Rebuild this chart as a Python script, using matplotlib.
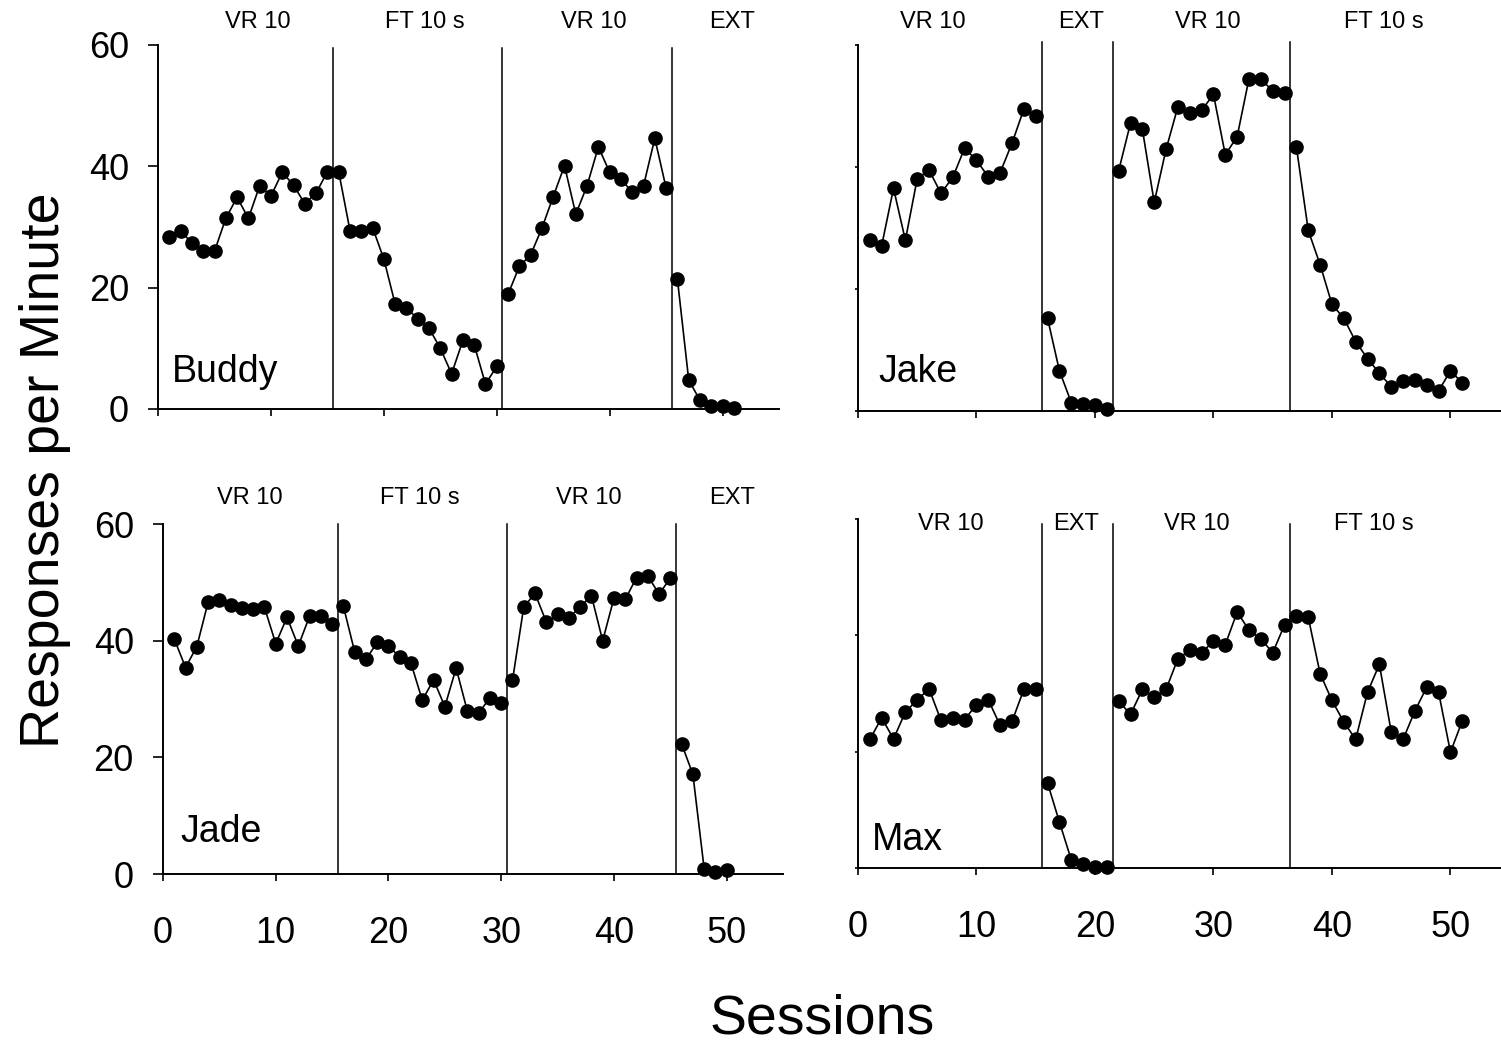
import numpy as np
import matplotlib.pyplot as plt

plt.rcParams['font.family'] = ['Liberation Sans', 'DejaVu Sans']

# responses per minute, one value per session (session 1..n)
buddy = [28.3, 29.4, 27.3, 26.1, 26.0, 31.4, 34.9, 31.4, 36.8, 35.1,
         39.0, 36.9, 33.8, 35.6, 39.1,
         39.1, 29.4, 29.4, 29.9, 24.7, 17.3, 16.6, 14.9, 13.3, 10.0,
         5.8, 11.3, 10.6, 4.1, 7.0,
         18.9, 23.5, 25.4, 29.8, 35.0, 40.1, 32.1, 36.8, 43.2, 39.0,
         37.9, 35.7, 36.8, 44.6, 36.4,
         21.4, 4.8, 1.4, 0.5, 0.5, 0.2]
jake = [28.1, 27.1, 36.5, 28.0, 38.1, 39.5, 35.7, 38.3, 43.1, 41.1,
        38.4, 39.1, 43.9, 49.5, 48.4,
        15.2, 6.6, 1.4, 1.1, 1.0, 0.4,
        39.4, 47.2, 46.2, 34.2, 42.9, 49.9, 48.8, 49.3, 51.9, 42.0,
        45.0, 54.5, 54.4, 52.5, 52.2,
        43.3, 29.6, 24.0, 17.5, 15.2, 11.4, 8.6, 6.2, 4.0, 4.9,
        5.1, 4.2, 3.3, 6.6, 4.6]
jade = [40.3, 35.4, 39.0, 46.6, 46.9, 46.1, 45.6, 45.5, 45.7, 39.5,
        44.0, 39.1, 44.2, 44.2, 42.8,
        45.9, 38.1, 36.8, 39.7, 39.1, 37.2, 36.1, 29.8, 33.3, 28.7,
        35.3, 27.9, 27.6, 30.2, 29.4,
        33.2, 45.8, 48.1, 43.2, 44.5, 43.9, 45.8, 47.7, 40.0, 47.3,
        47.1, 50.8, 51.1, 48.0, 50.7,
        22.3, 17.1, 0.9, 0.3, 0.7]
max_rates = [22.1, 25.8, 22.2, 26.8, 28.9, 30.8, 25.4, 25.8, 25.5, 28.1,
             28.9, 24.5, 25.2, 30.7, 30.8,
             14.6, 7.9, 1.4, 0.7, 0.1, 0.1,
             28.7, 26.4, 30.7, 29.4, 30.7, 36.0, 37.4, 37.0, 39.0, 38.4,
             44.0, 40.9, 39.4, 37.0, 41.8,
             43.4, 43.1, 33.4, 28.8, 25.1, 22.1, 30.2, 35.0, 23.4, 22.1,
             27.0, 31.1, 30.2, 19.9, 25.3]

# last session of each phase (except the final phase)
buddy_ends = [15, 30, 45]
jake_ends = [15, 21, 36]
jade_ends = [15, 30, 45]
max_ends = [15, 21, 36]

buddy_phases = ['VR 10', 'FT 10 s', 'VR 10', 'EXT']
jake_phases = ['VR 10', 'EXT', 'VR 10', 'FT 10 s']
jade_phases = ['VR 10', 'FT 10 s', 'VR 10', 'EXT']
max_phases = ['VR 10', 'EXT', 'VR 10', 'FT 10 s']

names = ['Buddy', 'Jake', 'Jade', 'Max']

fig = plt.figure(figsize=(15.01, 10.47), dpi=100)

panels = [
    # values, phase ends, phase labels, axes rect, label x, label y, line top, name pos, y labels, x labels
    (buddy, buddy_ends, buddy_phases, [0.1053, 0.6094, 0.4137, 0.3477],
     [8.8, 23.6, 38.6, 50.8], 63.8, 59.5, (1.2, 6.1), True, False),
    (jake, jake_ends, jake_phases, [0.5716, 0.6074, 0.4342, 0.3496],
     [6.3, 18.8, 29.5, 44.4], 63.8, 60.5, (1.7, 6.4), False, False),
    (jade, jade_ends, jade_phases, [0.1086, 0.1652, 0.4131, 0.3343],
     [7.7, 22.8, 37.8, 50.5], 64.5, 60.0, (1.5, 7.2), True, True),
    (max_rates, max_ends, max_phases, [0.5716, 0.1710, 0.4342, 0.3333],
     [7.8, 18.4, 28.6, 43.5], 59.1, 59.2, (1.2, 4.8), False, True),
]

for name, (vals, ends, phases, rect, lab_x, lab_y, top, npos, ylab, xlab) in zip(names, panels):
    ax = fig.add_axes(rect)
    vals = np.array(vals)
    sess = np.arange(1, len(vals) + 1)
    bounds = [0] + ends + [len(vals)]
    for i in range(len(bounds) - 1):
        s = slice(bounds[i], bounds[i + 1])
        ax.plot(sess[s], vals[s], color='black', lw=1.2, marker='o',
                ms=9.5, clip_on=False, zorder=3)
    for e in ends:
        ax.plot([e + 0.5, e + 0.5], [0, top], color='black', lw=1.1,
                clip_on=False)
    for t, x in zip(phases, lab_x):
        ax.text(x, lab_y, t, ha='center', va='center', fontsize=17)
    ax.text(npos[0], npos[1], name, ha='left', va='center', fontsize=27)

    ax.set_xlim(0, 55)
    ax.set_ylim(0, 60)
    ax.spines['top'].set_visible(False)
    ax.spines['right'].set_visible(False)
    for sp in ['left', 'bottom']:
        ax.spines[sp].set_linewidth(1.4)
    ax.set_xticks([0, 10, 20, 30, 40, 50])
    ax.set_yticks([0, 20, 40, 60])
    ax.tick_params(axis='x', direction='out', length=5, width=1.2,
                   pad=25, labelsize=26, labelbottom=xlab)
    if ylab:
        ax.tick_params(axis='y', direction='out', length=7, width=1.2,
                       pad=14, labelsize=26)
    else:
        ax.tick_params(axis='y', direction='out', length=2, width=1.2,
                       labelleft=False)

fig.text(0.030, 0.551, 'Responses per Minute', rotation=90, ha='center',
         va='center', fontsize=40)
fig.text(0.548, 0.026, 'Sessions', ha='center', va='center', fontsize=40)

fig.savefig('out.png', dpi=100)
